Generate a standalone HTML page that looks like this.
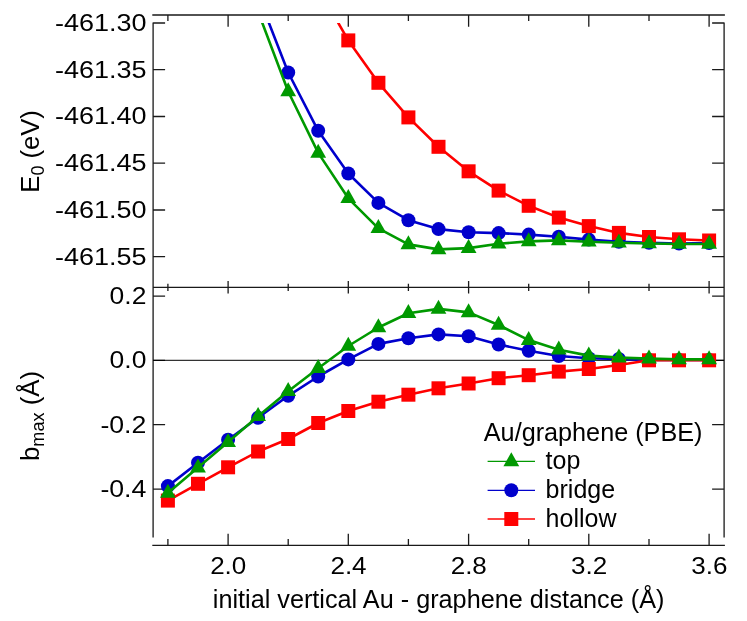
<!DOCTYPE html>
<html><head><meta charset="utf-8"><title>Au/graphene (PBE)</title>
<style>html,body{margin:0;padding:0;background:#fff;}body{width:747px;height:621px;overflow:hidden;font-family:"Liberation Sans",sans-serif;}</style></head>
<body>
<svg width="747" height="621" viewBox="0 0 747 621" style="display:block" font-family="'Liberation Sans', sans-serif" fill="#000">
<rect width="747" height="621" fill="#fff"/>
<defs><clipPath id="cu"><rect x="153.1" y="23.0" width="571.0" height="264.3"/></clipPath></defs>
<path d="M152.3 15.0L724.9 15.0M153.1 22.4L153.1 537.6M724.1 22.4L724.1 537.6M153.1 287.3L724.1 287.3M152.3 545.4L724.9 545.4M167.9 15.0L167.9 20.9M167.9 283.7L167.9 290.9M167.9 545.4L167.9 539.1M228.1 15.0L228.1 26.8M228.1 281.0L228.1 293.6M228.1 545.4L228.1 533.8M288.2 15.0L288.2 20.9M288.2 283.7L288.2 290.9M288.2 545.4L288.2 539.1M348.3 15.0L348.3 26.8M348.3 281.0L348.3 293.6M348.3 545.4L348.3 533.8M408.4 15.0L408.4 20.9M408.4 283.7L408.4 290.9M408.4 545.4L408.4 539.1M468.6 15.0L468.6 26.8M468.6 281.0L468.6 293.6M468.6 545.4L468.6 533.8M528.7 15.0L528.7 20.9M528.7 283.7L528.7 290.9M528.7 545.4L528.7 539.1M588.8 15.0L588.8 26.8M588.8 281.0L588.8 293.6M588.8 545.4L588.8 533.8M649.0 15.0L649.0 20.9M649.0 283.7L649.0 290.9M649.0 545.4L649.0 539.1M709.1 15.0L709.1 26.8M709.1 281.0L709.1 293.6M709.1 545.4L709.1 533.8M153.1 23.0L165.1 23.0M724.1 23.0L712.1 23.0M153.1 69.7L165.1 69.7M724.1 69.7L712.1 69.7M153.1 116.5L165.1 116.5M724.1 116.5L712.1 116.5M153.1 163.2L165.1 163.2M724.1 163.2L712.1 163.2M153.1 210.0L165.1 210.0M724.1 210.0L712.1 210.0M153.1 256.7L165.1 256.7M724.1 256.7L712.1 256.7M153.1 296.1L165.1 296.1M724.1 296.1L712.1 296.1M153.1 360.3L165.1 360.3M724.1 360.3L712.1 360.3M153.1 424.6L165.1 424.6M724.1 424.6L712.1 424.6M153.1 489.2L165.1 489.2M724.1 489.2L712.1 489.2" stroke="#1a1a1a" stroke-width="1.3" fill="none"/>
<line x1="153.1" y1="360.3" x2="724.1" y2="360.3" stroke="#000" stroke-width="1"/>
<g clip-path="url(#cu)">
<polyline points="258.1,-4.9 288.2,72.5 318.2,130.8 348.3,173.5 378.4,202.9 408.4,220.2 438.5,229.1 468.6,232.2 498.6,233.1 528.7,234.6 558.8,236.7 588.8,239.6 618.9,241.8 649.0,242.7 679.0,243.5 709.1,243.0" fill="none" stroke="#0000cc" stroke-width="2.6" stroke-linejoin="round"/><circle cx="258.1" cy="-4.9" r="7" fill="#0000cc"/><circle cx="288.2" cy="72.5" r="7" fill="#0000cc"/><circle cx="318.2" cy="130.8" r="7" fill="#0000cc"/><circle cx="348.3" cy="173.5" r="7" fill="#0000cc"/><circle cx="378.4" cy="202.9" r="7" fill="#0000cc"/><circle cx="408.4" cy="220.2" r="7" fill="#0000cc"/><circle cx="438.5" cy="229.1" r="7" fill="#0000cc"/><circle cx="468.6" cy="232.2" r="7" fill="#0000cc"/><circle cx="498.6" cy="233.1" r="7" fill="#0000cc"/><circle cx="528.7" cy="234.6" r="7" fill="#0000cc"/><circle cx="558.8" cy="236.7" r="7" fill="#0000cc"/><circle cx="588.8" cy="239.6" r="7" fill="#0000cc"/><circle cx="618.9" cy="241.8" r="7" fill="#0000cc"/><circle cx="649.0" cy="242.7" r="7" fill="#0000cc"/><circle cx="679.0" cy="243.5" r="7" fill="#0000cc"/><circle cx="709.1" cy="243.0" r="7" fill="#0000cc"/>
<polyline points="318.2,-12.0 348.3,40.4 378.4,82.8 408.4,117.4 438.5,146.8 468.6,171.3 498.6,190.6 528.7,205.8 558.8,217.6 588.8,226.1 618.9,232.9 649.0,237.0 679.0,239.3 709.1,240.5" fill="none" stroke="#ff0000" stroke-width="2.6" stroke-linejoin="round"/><rect x="311.2" y="-19.0" width="14" height="14" fill="#ff0000"/><rect x="341.3" y="33.4" width="14" height="14" fill="#ff0000"/><rect x="371.4" y="75.8" width="14" height="14" fill="#ff0000"/><rect x="401.4" y="110.4" width="14" height="14" fill="#ff0000"/><rect x="431.5" y="139.8" width="14" height="14" fill="#ff0000"/><rect x="461.6" y="164.3" width="14" height="14" fill="#ff0000"/><rect x="491.6" y="183.6" width="14" height="14" fill="#ff0000"/><rect x="521.7" y="198.8" width="14" height="14" fill="#ff0000"/><rect x="551.8" y="210.6" width="14" height="14" fill="#ff0000"/><rect x="581.8" y="219.1" width="14" height="14" fill="#ff0000"/><rect x="611.9" y="225.9" width="14" height="14" fill="#ff0000"/><rect x="642.0" y="230.0" width="14" height="14" fill="#ff0000"/><rect x="672.0" y="232.3" width="14" height="14" fill="#ff0000"/><rect x="702.1" y="233.5" width="14" height="14" fill="#ff0000"/>
<polyline points="258.1,11.8 288.2,91.5 318.2,152.9 348.3,198.3 378.4,228.3 408.4,244.4 438.5,249.4 468.6,248.1 498.6,243.8 528.7,241.4 558.8,240.4 588.8,241.7 618.9,242.7 649.0,243.5 679.0,244.0 709.1,244.0" fill="none" stroke="#009900" stroke-width="2.6" stroke-linejoin="round"/><polygon points="258.1,2.6 250.2,16.6 266.0,16.6" fill="#009900"/><polygon points="288.2,82.3 280.3,96.3 296.1,96.3" fill="#009900"/><polygon points="318.2,143.7 310.3,157.7 326.1,157.7" fill="#009900"/><polygon points="348.3,189.1 340.4,203.1 356.2,203.1" fill="#009900"/><polygon points="378.4,219.1 370.5,233.1 386.3,233.1" fill="#009900"/><polygon points="408.4,235.2 400.5,249.2 416.3,249.2" fill="#009900"/><polygon points="438.5,240.2 430.6,254.2 446.4,254.2" fill="#009900"/><polygon points="468.6,238.9 460.7,252.9 476.5,252.9" fill="#009900"/><polygon points="498.6,234.6 490.7,248.6 506.5,248.6" fill="#009900"/><polygon points="528.7,232.2 520.8,246.2 536.6,246.2" fill="#009900"/><polygon points="558.8,231.2 550.9,245.2 566.7,245.2" fill="#009900"/><polygon points="588.8,232.5 580.9,246.5 596.7,246.5" fill="#009900"/><polygon points="618.9,233.5 611.0,247.5 626.8,247.5" fill="#009900"/><polygon points="649.0,234.3 641.1,248.3 656.9,248.3" fill="#009900"/><polygon points="679.0,234.8 671.1,248.8 686.9,248.8" fill="#009900"/><polygon points="709.1,234.8 701.2,248.8 717.0,248.8" fill="#009900"/>
</g>
<polyline points="167.9,486.1 198.0,462.7 228.1,439.8 258.1,417.7 288.2,395.8 318.2,376.5 348.3,359.4 378.4,343.9 408.4,338.3 438.5,334.4 468.6,336.2 498.6,344.5 528.7,350.8 558.8,356.0 588.8,358.2 618.9,358.9 649.0,360.0 679.0,360.0 709.1,360.0" fill="none" stroke="#0000cc" stroke-width="2.6" stroke-linejoin="round"/><circle cx="167.9" cy="486.1" r="7" fill="#0000cc"/><circle cx="198.0" cy="462.7" r="7" fill="#0000cc"/><circle cx="228.1" cy="439.8" r="7" fill="#0000cc"/><circle cx="258.1" cy="417.7" r="7" fill="#0000cc"/><circle cx="288.2" cy="395.8" r="7" fill="#0000cc"/><circle cx="318.2" cy="376.5" r="7" fill="#0000cc"/><circle cx="348.3" cy="359.4" r="7" fill="#0000cc"/><circle cx="378.4" cy="343.9" r="7" fill="#0000cc"/><circle cx="408.4" cy="338.3" r="7" fill="#0000cc"/><circle cx="438.5" cy="334.4" r="7" fill="#0000cc"/><circle cx="468.6" cy="336.2" r="7" fill="#0000cc"/><circle cx="498.6" cy="344.5" r="7" fill="#0000cc"/><circle cx="528.7" cy="350.8" r="7" fill="#0000cc"/><circle cx="558.8" cy="356.0" r="7" fill="#0000cc"/><circle cx="588.8" cy="358.2" r="7" fill="#0000cc"/><circle cx="618.9" cy="358.9" r="7" fill="#0000cc"/><circle cx="649.0" cy="360.0" r="7" fill="#0000cc"/><circle cx="679.0" cy="360.0" r="7" fill="#0000cc"/><circle cx="709.1" cy="360.0" r="7" fill="#0000cc"/>
<polyline points="167.9,500.6 198.0,483.8 228.1,467.3 258.1,451.5 288.2,439.0 318.2,423.0 348.3,411.0 378.4,401.7 408.4,394.7 438.5,388.3 468.6,383.5 498.6,378.2 528.7,375.2 558.8,371.6 588.8,369.0 618.9,365.0 649.0,360.3 679.0,360.3 709.1,360.3" fill="none" stroke="#ff0000" stroke-width="2.6" stroke-linejoin="round"/><rect x="160.9" y="493.6" width="14" height="14" fill="#ff0000"/><rect x="191.0" y="476.8" width="14" height="14" fill="#ff0000"/><rect x="221.1" y="460.3" width="14" height="14" fill="#ff0000"/><rect x="251.1" y="444.5" width="14" height="14" fill="#ff0000"/><rect x="281.2" y="432.0" width="14" height="14" fill="#ff0000"/><rect x="311.2" y="416.0" width="14" height="14" fill="#ff0000"/><rect x="341.3" y="404.0" width="14" height="14" fill="#ff0000"/><rect x="371.4" y="394.7" width="14" height="14" fill="#ff0000"/><rect x="401.4" y="387.7" width="14" height="14" fill="#ff0000"/><rect x="431.5" y="381.3" width="14" height="14" fill="#ff0000"/><rect x="461.6" y="376.5" width="14" height="14" fill="#ff0000"/><rect x="491.6" y="371.2" width="14" height="14" fill="#ff0000"/><rect x="521.7" y="368.2" width="14" height="14" fill="#ff0000"/><rect x="551.8" y="364.6" width="14" height="14" fill="#ff0000"/><rect x="581.8" y="362.0" width="14" height="14" fill="#ff0000"/><rect x="611.9" y="358.0" width="14" height="14" fill="#ff0000"/><rect x="642.0" y="353.3" width="14" height="14" fill="#ff0000"/><rect x="672.0" y="353.3" width="14" height="14" fill="#ff0000"/><rect x="702.1" y="353.3" width="14" height="14" fill="#ff0000"/>
<polyline points="167.9,493.0 198.0,467.6 228.1,442.1 258.1,416.2 288.2,391.2 318.2,368.2 348.3,346.0 378.4,327.5 408.4,313.3 438.5,308.9 468.6,312.4 498.6,325.0 528.7,340.1 558.8,349.8 588.8,355.6 618.9,357.6 649.0,358.6 679.0,359.4 709.1,359.4" fill="none" stroke="#009900" stroke-width="2.6" stroke-linejoin="round"/><polygon points="167.9,483.8 160.0,497.8 175.8,497.8" fill="#009900"/><polygon points="198.0,458.4 190.1,472.4 205.9,472.4" fill="#009900"/><polygon points="228.1,432.9 220.2,446.9 236.0,446.9" fill="#009900"/><polygon points="258.1,407.0 250.2,421.0 266.0,421.0" fill="#009900"/><polygon points="288.2,382.0 280.3,396.0 296.1,396.0" fill="#009900"/><polygon points="318.2,359.0 310.3,373.0 326.1,373.0" fill="#009900"/><polygon points="348.3,336.8 340.4,350.8 356.2,350.8" fill="#009900"/><polygon points="378.4,318.3 370.5,332.3 386.3,332.3" fill="#009900"/><polygon points="408.4,304.1 400.5,318.1 416.3,318.1" fill="#009900"/><polygon points="438.5,299.7 430.6,313.7 446.4,313.7" fill="#009900"/><polygon points="468.6,303.2 460.7,317.2 476.5,317.2" fill="#009900"/><polygon points="498.6,315.8 490.7,329.8 506.5,329.8" fill="#009900"/><polygon points="528.7,330.9 520.8,344.9 536.6,344.9" fill="#009900"/><polygon points="558.8,340.6 550.9,354.6 566.7,354.6" fill="#009900"/><polygon points="588.8,346.4 580.9,360.4 596.7,360.4" fill="#009900"/><polygon points="618.9,348.4 611.0,362.4 626.8,362.4" fill="#009900"/><polygon points="649.0,349.4 641.1,363.4 656.9,363.4" fill="#009900"/><polygon points="679.0,350.2 671.1,364.2 686.9,364.2" fill="#009900"/><polygon points="709.1,350.2 701.2,364.2 717.0,364.2" fill="#009900"/>
<g style="opacity:0.999">
<text x="146.5" y="30.9" font-size="23" text-anchor="end" textLength="91.6" lengthAdjust="spacingAndGlyphs">-461.30</text>
<text x="146.5" y="77.6" font-size="23" text-anchor="end" textLength="91.6" lengthAdjust="spacingAndGlyphs">-461.35</text>
<text x="146.5" y="124.4" font-size="23" text-anchor="end" textLength="91.6" lengthAdjust="spacingAndGlyphs">-461.40</text>
<text x="146.5" y="171.1" font-size="23" text-anchor="end" textLength="91.6" lengthAdjust="spacingAndGlyphs">-461.45</text>
<text x="146.5" y="217.9" font-size="23" text-anchor="end" textLength="91.6" lengthAdjust="spacingAndGlyphs">-461.50</text>
<text x="146.5" y="264.6" font-size="23" text-anchor="end" textLength="91.6" lengthAdjust="spacingAndGlyphs">-461.55</text>
<text x="146.4" y="304.2" font-size="23" text-anchor="end" textLength="36.8" lengthAdjust="spacingAndGlyphs">0.2</text>
<text x="146.4" y="368.4" font-size="23" text-anchor="end" textLength="36.8" lengthAdjust="spacingAndGlyphs">0.0</text>
<text x="146.4" y="432.7" font-size="23" text-anchor="end" textLength="46.0" lengthAdjust="spacingAndGlyphs">-0.2</text>
<text x="146.4" y="497.3" font-size="23" text-anchor="end" textLength="46.0" lengthAdjust="spacingAndGlyphs">-0.4</text>
<text x="228.25" y="574.4" font-size="23" text-anchor="middle" textLength="36.2" lengthAdjust="spacingAndGlyphs">2.0</text>
<text x="348.50999999999993" y="574.4" font-size="23" text-anchor="middle" textLength="36.2" lengthAdjust="spacingAndGlyphs">2.4</text>
<text x="468.7699999999999" y="574.4" font-size="23" text-anchor="middle" textLength="36.2" lengthAdjust="spacingAndGlyphs">2.8</text>
<text x="589.0300000000001" y="574.4" font-size="23" text-anchor="middle" textLength="36.2" lengthAdjust="spacingAndGlyphs">3.2</text>
<text x="709.29" y="574.4" font-size="23" text-anchor="middle" textLength="36.2" lengthAdjust="spacingAndGlyphs">3.6</text>
<text x="438.6" y="607.5" font-size="25" text-anchor="middle" textLength="451.6" lengthAdjust="spacingAndGlyphs">initial vertical Au - graphene distance (Å)</text>
<text transform="translate(38.9,192.7) rotate(-90) scale(1.025,1)" font-size="25">E<tspan font-size="17.5" dy="5.3">0</tspan><tspan dy="-5.3"> (eV)</tspan></text>
<text transform="translate(39.1,461.1) rotate(-90) scale(1.035,1)" font-size="25">b<tspan font-size="17.5" dy="5.3">max</tspan><tspan dy="-5.3"> (Å)</tspan></text>
<text x="483.8" y="440.8" font-size="25" textLength="218.6" lengthAdjust="spacingAndGlyphs">Au/graphene (PBE)</text>
<line x1="487.6" y1="461.4" x2="535" y2="461.4" stroke="#009900" stroke-width="1.3"/>
<polygon points="511.3,452.2 503.4,466.2 519.2,466.2" fill="#009900"/>
<text x="545.6" y="469.3" font-size="25">top</text>
<line x1="487.6" y1="490.3" x2="535" y2="490.3" stroke="#0000cc" stroke-width="1.3"/>
<circle cx="511.3" cy="490.3" r="7" fill="#0000cc"/>
<text x="545.6" y="498.2" font-size="25">bridge</text>
<line x1="487.6" y1="519.0" x2="535" y2="519.0" stroke="#ff0000" stroke-width="1.3"/>
<rect x="504.3" y="512.0" width="14" height="14" fill="#ff0000"/>
<text x="545.6" y="526.9" font-size="25">hollow</text>
</g>
</svg>
</body></html>
